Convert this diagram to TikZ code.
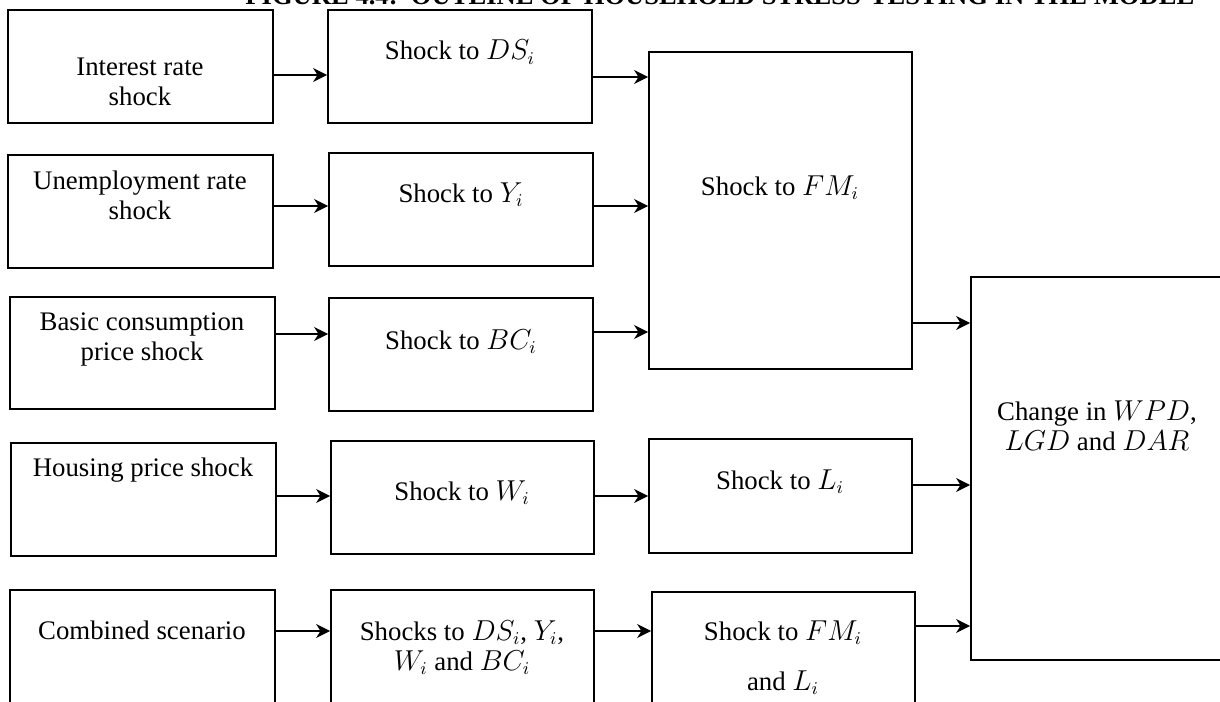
\documentclass[tikz,border=0pt]{standalone}
\usepackage{fontspec}
\setmainfont{Liberation Serif}
\usepackage{tikz}
\usetikzlibrary{arrows.meta, fit, positioning}

\tikzset{
  box/.style = {draw, line width=0.9pt, inner sep=0pt},
  lbl/.style = {font=\fontsize{13.4}{15}\selectfont, align=center, inner sep=0pt, anchor=base},
  arr/.style = {line width=0.8pt, -{Stealth[length=7pt, width=7pt, inset=2.2pt]}},
}

\begin{document}
\begin{tikzpicture}[x=0.5pt, y=-0.5pt]
  \useasboundingbox (0,0) rectangle (1220,701);
  \clip (0,0) rectangle (1220,701);

  % title
  \node (title) [anchor=base west, inner sep=0pt, font=\fontsize{13.3}{15}\selectfont\bfseries]
    at (245,5) {FIGURE 4.4:\ \ OUTLINE OF HOUSEHOLD STRESS-TESTING IN THE MODEL};

  % first column: shocks
  \node (int)   [box, fit={(8,10) (273,123)}] {};
  \node (unemp) [box, fit={(8,155) (273,268)}] {};
  \node (cons)  [box, fit={(10,297) (275,409)}] {};
  \node (house) [box, fit={(11,443) (276,556)}] {};
  \node (comb)  [box, fit={(10,590) (275,720)}] {};
  \node (intT)   [lbl] at (140,105) {Interest rate\\shock};
  \node (unempT) [lbl] at (140,219) {Unemployment rate\\shock};
  \node (consT)  [lbl] at (142,360) {Basic consumption\\price shock};
  \node (houseT) [lbl] at (143,476) {Housing price shock};
  \node (combT)  [lbl] at (142,639) {Combined scenario};

  % second column
  \node (ds)  [box, fit={(328,10) (592,123)}] {};
  \node (yi)  [box, fit={(329,153) (593,266)}] {};
  \node (bc)  [box, fit={(329,298) (593,411)}] {};
  \node (wi)  [box, fit={(331,441) (594,554)}] {};
  \node (all) [box, fit={(331,590) (594,720)}] {};
  \node (dsT)  [lbl] at (460,60)  {Shock to $DS_i$};
  \node (yiT)  [lbl] at (461,202) {Shock to $Y_i$};
  \node (bcT)  [lbl] at (461,349) {Shock to $BC_i$};
  \node (wiT)  [lbl] at (462,500) {Shock to $W_i$};
  \node (allT) [lbl] at (462,670) {Shocks to $DS_i$, $Y_i$,\\$W_i$ and $BC_i$};

  % third column
  \node (fm)  [box, fit={(649,52) (912,369)}] {};
  \node (li)  [box, fit={(649,439) (912,553)}] {};
  \node (fml) [box, fit={(652,592) (915,720)}] {};
  \node (fmT)  [lbl] at (780,195) {Shock to $FM_i$};
  \node (liT)  [lbl] at (780,489) {Shock to $L_i$};
  \node (fmlT) [lbl, font=\fontsize{13.4}{25}\selectfont] at (783,690) {Shock to $FM_i$\\and $L_i$};

  % result
  \node (res)  [box, fit={(971,277) (1225,660)}] {};
  \node (resT) [lbl] at (1097,450) {Change in $WPD$,\\$LGD$ and $DAR$};

  % connectors
  \draw[arr] (int.east |- 0,75)   -- (ds.west |- 0,75);
  \draw[arr] (unemp.east |- 0,206) -- (yi.west |- 0,206);
  \draw[arr] (cons.east |- 0,334)  -- (bc.west |- 0,334);
  \draw[arr] (house.east |- 0,496) -- (wi.west |- 0,496);
  \draw[arr] (comb.east |- 0,631)  -- (all.west |- 0,631);
  \draw[arr] (ds.east |- 0,77)   -- (fm.west |- 0,77);
  \draw[arr] (yi.east |- 0,206)  -- (fm.west |- 0,206);
  \draw[arr] (bc.east |- 0,332)  -- (fm.west |- 0,332);
  \draw[arr] (wi.east |- 0,496)  -- (li.west |- 0,496);
  \draw[arr] (all.east |- 0,631) -- (fml.west |- 0,631);
  \draw[arr] (fm.east |- 0,323)  -- (res.west |- 0,323);
  \draw[arr] (li.east |- 0,485)  -- (res.west |- 0,485);
  \draw[arr] (fml.east |- 0,626) -- (res.west |- 0,626);
\end{tikzpicture}
\end{document}
